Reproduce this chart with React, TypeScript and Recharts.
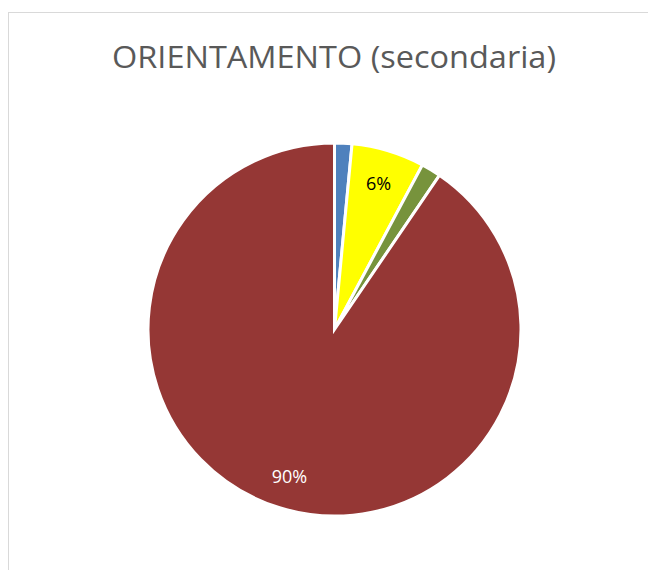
import { PieChart, Pie, Cell } from "recharts";

const categories = ["A", "B", "C", "D"];
const values = [1.5, 6.3, 1.7, 90.4];
const colors = ["#4F81BD", "#FFFF00", "#77933C", "#953735"];
const shownLabels = [false, true, false, true];
const labelColors = ["#000", "#000", "#000", "#fff"];

const data = categories.map((name, i) => ({ name, value: values[i] }));

const RADIAN = Math.PI / 180;

const renderLabel = (props: any) => {
  const { cx, cy, midAngle, outerRadius, percent, index } = props;
  if (!shownLabels[index]) return null;
  const r = outerRadius * 0.82;
  const x = cx + r * Math.cos(-midAngle * RADIAN);
  const y = cy + r * Math.sin(-midAngle * RADIAN);
  return (
    <text
      x={x}
      y={y}
      fill={labelColors[index]}
      textAnchor="middle"
      dominantBaseline="central"
      fontFamily="Open Sans, sans-serif"
      fontSize={18}
    >
      {`${Math.round(percent * 100)}%`}
    </text>
  );
};

export default function App() {
  return (
    <div
      style={{
        position: "absolute",
        left: 0,
        top: 0,
        width: 648,
        height: 570,
        background: "#fff",
        overflow: "hidden",
      }}
    >
      <div
        style={{
          position: "absolute",
          left: 8,
          top: 12,
          width: 700,
          height: 600,
          border: "1px solid #d9d9d9",
        }}
      />
      <svg
        width={648}
        height={100}
        style={{ position: "absolute", left: 0, top: 0 }}
      >
        <text
          x={334}
          y={68}
          textAnchor="middle"
          fill="#595959"
          fontFamily="Open Sans, sans-serif"
          fontSize={31}
          textLength={444}
          lengthAdjust="spacingAndGlyphs"
        >
          ORIENTAMENTO (secondaria)
        </text>
      </svg>
      <div style={{ position: "absolute", left: 0, top: 0 }}>
        <PieChart
          width={648}
          height={570}
          margin={{ top: 0, right: 0, bottom: 0, left: 0 }}
        >
          <Pie
            data={data}
            dataKey="value"
            cx={334.5}
            cy={329.5}
            outerRadius={186.5}
            startAngle={90}
            endAngle={-270}
            stroke="#fff"
            strokeWidth={3}
            labelLine={false}
            label={renderLabel}
            isAnimationActive={false}
          >
            {data.map((d, i) => (
              <Cell key={d.name} fill={colors[i]} />
            ))}
          </Pie>
        </PieChart>
      </div>
    </div>
  );
}
